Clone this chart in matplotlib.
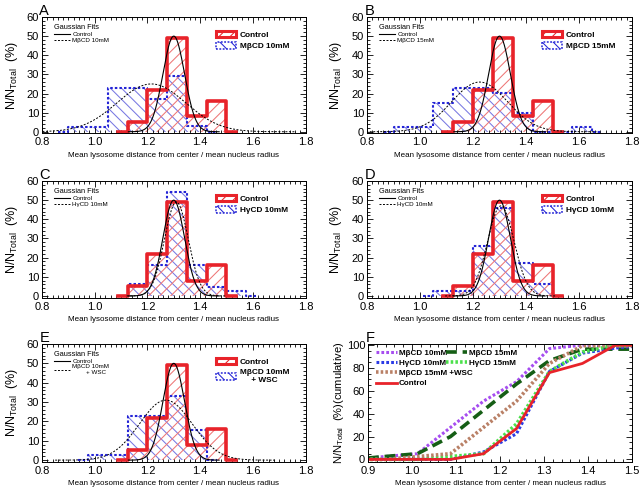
import numpy as np
import matplotlib
matplotlib.use('Agg')
import matplotlib.pyplot as plt
from matplotlib.patches import Patch
from matplotlib import font_manager
from matplotlib.ticker import MultipleLocator, FormatStrFormatter

plt.rcParams['font.family'] = ['Liberation Sans', 'DejaVu Sans']
plt.rcParams['mathtext.fontset'] = 'custom'
plt.rcParams['mathtext.rm'] = 'Liberation Sans'
plt.rcParams['mathtext.it'] = 'Liberation Sans:italic'
plt.rcParams['hatch.linewidth'] = 0.75

_names = {f.name for f in font_manager.fontManager.ttflist}
NARROW = 'Liberation Sans Narrow' if 'Liberation Sans Narrow' in _names else 'Liberation Sans'
NSCALE = 1.0 if NARROW == 'Liberation Sans Narrow' else 0.85

# ---------------- data ----------------
bin_centers = [0.8625, 0.9375, 1.0125, 1.0875, 1.1625, 1.2375, 1.3125,
               1.3875, 1.4625, 1.5375, 1.6125, 1.6875]
control    = [0, 0, 0, 0, 5, 22, 49, 8, 16, 0, 0, 0]
mbcd10     = [0, 2.5, 2.5, 23, 23, 17, 29, 3, 0, 0, 0, 0]
mbcd15     = [0, 2.5, 2.5, 15, 23, 23, 20.5, 10, 0, 0, 2.5, 0]
hgcd10     = [0, 0, 0, 0, 6.5, 16, 54.5, 16, 4.5, 2.5, 0, 0]
hgcd15     = [0, 0, 0, 2.5, 2.5, 26, 46, 17, 6, 0, 0, 0]
mbcd10_wsc = [0, 0, 2.5, 2.5, 23, 23, 33, 15.5, 0, 0, 0, 0]

# Gaussian fit parameters (amplitude, mean, sigma)
fit_control    = (50, 1.300, 0.041)
fit_mbcd10     = (25, 1.215, 0.130)
fit_mbcd15     = (26, 1.225, 0.105)
fit_hgcd10     = (49, 1.310, 0.045)
fit_hgcd15     = (47, 1.305, 0.050)
fit_mbcd10_wsc = (31, 1.270, 0.100)

panel_letters = ['A', 'B', 'C', 'D', 'E']
treat_labels = ['M\u03b2CD 10mM', 'M\u03b2CD 15mM', 'H\u03b3CD 10mM',
                'H\u03b3CD 10mM', 'M\u03b2CD 10mM\n     + WSC']
fit_labels = ['M\u03b2CD 10mM', 'M\u03b2CD 15mM', 'H\u03b3CD 10mM',
              'H\u03b3CD 10mM', 'M\u03b2CD 10mM\n        + WSC']

cum_labels = ['M\u03b2CD 10mM', 'M\u03b2CD 15mM', 'H\u03b3CD 10mM',
              'H\u03b3CD 15mM', 'M\u03b2CD 15mM +WSC', 'Control']

RED = '#e8232a'
RED_H = '#ee7676'
BLUE = '#2424d6'
BLUE_H = '#7878e2'

fig = plt.figure(figsize=(6.41, 4.93), dpi=100)
W, H = 641.0, 493.0


def ax_at(l, t, r, b):
    return fig.add_axes([l / W, 1 - b / H, (r - l) / W, (b - t) / H])


positions = [(42, 17, 305.5, 133.3), (367, 17, 632, 133.3),
             (42, 181, 305.5, 297.5), (367, 181, 632, 297.5),
             (42, 344, 305.5, 461.7)]
treat_data = [mbcd10, mbcd15, hgcd10, hgcd15, mbcd10_wsc]
treat_fits = [fit_mbcd10, fit_mbcd15, fit_hgcd10, fit_hgcd15, fit_mbcd10_wsc]

xc = np.array(bin_centers)


def gauss(p):
    a, m, s = p
    xg = np.linspace(m - 4.2 * s, m + 4.2 * s, 400)
    return xg, a * np.exp(-0.5 * ((xg - m) / s) ** 2)


def trim(vals):
    v = np.array(vals, dtype=float)
    nz = np.nonzero(v)[0]
    i0 = max(nz[0] - 1, 0)
    i1 = min(nz[-1] + 2, len(v))
    return xc[i0:i1], v[i0:i1]


def style_axes(ax):
    ax.tick_params(which='both', direction='in', top=True, right=True,
                   labelsize=8, width=0.6)
    ax.tick_params(axis='x', pad=3)
    ax.tick_params(axis='y', pad=2)
    ax.tick_params(which='major', length=4)
    ax.tick_params(which='minor', length=2)
    for s in ax.spines.values():
        s.set_linewidth(0.7)


ylab = r'N/N$_{\rm Total}$  (%)'
xlab = 'Mean lysosome distance from center / mean nucleus radius'

for k in range(5):
    ax = ax_at(*positions[k])
    tx, ty = trim(treat_data[k])
    cx, cy = trim(control)
    ax.fill_between(tx, ty, step='mid', facecolor='none', edgecolor=BLUE_H,
                    hatch='\\\\\\', linewidth=0, zorder=1)
    ax.fill_between(cx, cy, step='mid', facecolor='none', edgecolor=RED_H,
                    hatch='///', linewidth=0, zorder=1)
    ax.step(tx, ty, where='mid', color=BLUE, lw=1.5, ls=(0, (1.2, 1.0)),
            zorder=3)
    ax.step(cx, cy, where='mid', color=RED, lw=2.6, zorder=4)
    gx, gy = gauss(fit_control)
    l1, = ax.plot(gx, gy, color='black', lw=0.8, zorder=5)
    gx, gy = gauss(treat_fits[k])
    l2, = ax.plot(gx, gy, color='black', lw=0.7, ls=(0, (2.0, 1.6)), zorder=5)

    ax.set_xlim(0.8, 1.8)
    ax.set_ylim(-0.8, 60)
    ax.xaxis.set_major_locator(MultipleLocator(0.2))
    ax.xaxis.set_minor_locator(MultipleLocator(0.02))
    ax.yaxis.set_major_locator(MultipleLocator(10))
    ax.yaxis.set_minor_locator(MultipleLocator(2))
    ax.xaxis.set_major_formatter(FormatStrFormatter('%.1f'))
    style_axes(ax)
    ax.set_xlabel(xlab, fontsize=5.8, labelpad=3)
    ax.set_ylabel(ylab, fontsize=9)
    ax.yaxis.set_label_coords(-0.085, 0.5)
    ax.text(-0.01, 0.995, panel_letters[k], transform=ax.transAxes,
            fontsize=10.5, ha='left', va='bottom')

    leg1 = ax.legend([l1, l2], ['Control', fit_labels[k]], loc='upper left',
                     bbox_to_anchor=(0.025, 0.985), frameon=False,
                     title='Gaussian Fits',
                     title_fontproperties={'family': NARROW,
                                           'size': 6.2 * NSCALE},
                     prop={'family': NARROW, 'size': 5.3 * NSCALE},
                     handlelength=2.6, labelspacing=0.1, borderpad=0.3,
                     handletextpad=0.4, alignment='left')
    ax.add_artist(leg1)
    h1 = Patch(facecolor='white', edgecolor=RED, hatch='///', lw=2.2)
    h2 = Patch(facecolor='white', edgecolor=BLUE, hatch='\\\\\\', lw=1.1,
               ls=(0, (1.2, 1.0)))
    ax.legend([h1, h2], ['Control', treat_labels[k]], loc='upper left',
              bbox_to_anchor=(0.64, 0.93), frameon=False,
              prop={'family': NARROW, 'size': 7 * NSCALE, 'weight': 'bold'},
              handlelength=2.4, handleheight=0.8, labelspacing=0.4,
              borderpad=0.2, handletextpad=0.4)

# ---------------- panel F ----------------
axf = ax_at(368, 344, 632, 461.7)
cum_series = [mbcd10, mbcd15, hgcd10, hgcd15, mbcd10_wsc, control]
cum_colors = ['#a64df0', '#155e15', '#2a3ae6', '#4be04b', '#b98066', RED]
cum_ls = [(0, (0.9, 0.7)), (0, (3.0, 1.6)), (0, (0.9, 0.7)), (0, (0.7, 0.6)),
          (0, (0.7, 0.6)), '-']
cum_lw = [2.2, 2.6, 2.2, 2.6, 2.6, 2.0]
handles = []
for s, c, ls, lw, lab in zip(cum_series, cum_colors, cum_ls, cum_lw,
                             cum_labels):
    ln, = axf.plot(xc, np.cumsum(s), color=c, ls=ls, lw=lw, label=lab)
    handles.append(ln)
axf.set_xlim(0.9, 1.5)
axf.set_ylim(-2, 101)
axf.xaxis.set_major_locator(MultipleLocator(0.1))
axf.xaxis.set_minor_locator(MultipleLocator(0.02))
axf.yaxis.set_major_locator(MultipleLocator(20))
axf.yaxis.set_minor_locator(MultipleLocator(5))
axf.xaxis.set_major_formatter(FormatStrFormatter('%.1f'))
style_axes(axf)
axf.set_xlabel(xlab, fontsize=5.8, labelpad=3)
axf.set_ylabel(r'N/N$_{\rm Total}$  (%)(cumulative)', fontsize=8)
axf.yaxis.set_label_coords(-0.085, 0.5)
axf.text(-0.01, 0.995, 'F', transform=axf.transAxes, fontsize=10.5,
         ha='left', va='bottom')
fprop = {'family': NARROW, 'size': 6.8 * NSCALE, 'weight': 'bold'}
legA = axf.legend([handles[0], handles[2], handles[4], handles[5]],
                  [cum_labels[0], cum_labels[2], cum_labels[4], cum_labels[5]],
                  loc='upper left', bbox_to_anchor=(0.01, 1.0), frameon=False,
                  prop=fprop, handlelength=2.6, labelspacing=0.3,
                  borderpad=0.2, handletextpad=0.2)
axf.add_artist(legA)
axf.legend([handles[1], handles[3]], [cum_labels[1], cum_labels[3]],
           loc='upper left', bbox_to_anchor=(0.275, 1.0), frameon=False,
           prop=fprop, handlelength=2.6, labelspacing=0.3,
           borderpad=0.2, handletextpad=0.2)

fig.savefig('out.png', dpi=100, facecolor='white')
